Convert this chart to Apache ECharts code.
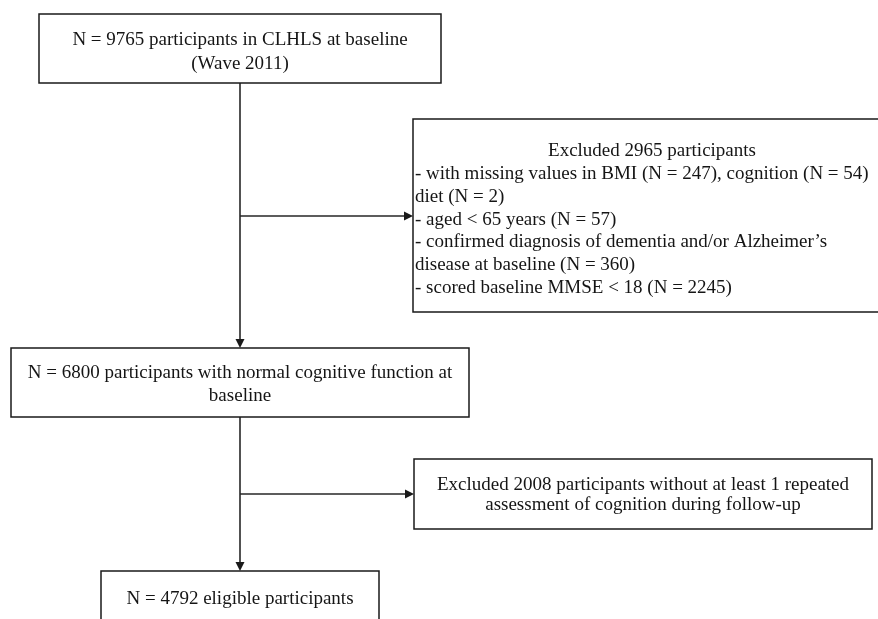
<!DOCTYPE html>
<html>
<head>
<meta charset="utf-8">
<script src="https://cdn.jsdelivr.net/npm/echarts@6/dist/echarts.min.js"></script>
<style>html,body{margin:0;padding:0;background:#fff}#c{width:878px;height:619px}</style>
</head>
<body>
<div id="c"></div>
<script>
// ---- content (text of each box) ----
const box1Lines = ["N = 9765 participants in CLHLS at baseline", "(Wave 2011)"];
const box2Title = ["Excluded 2965 participants"];
const box2Lines = [
  "- with missing values in BMI (N = 247), cognition (N = 54)",
  "diet (N = 2)",
  "- aged < 65 years (N = 57)",
  "- confirmed diagnosis of dementia and/or Alzheimer\u2019s",
  "disease at baseline (N = 360)",
  "- scored baseline MMSE < 18 (N = 2245)"
];
const box3Lines = ["N = 6800 participants with normal cognitive function at", "baseline"];
const box4Lines = ["Excluded 2008 participants without at least 1 repeated", "assessment of cognition during follow-up"];
const box5Lines = ["N = 4792 eligible participants"];

// ---- layout (diagram units = pixels of an 878x619 canvas) ----
const W = 878, H = 619;
const boxRects = [          // x0, y0, x1, y1
  [39, 14, 441, 83],
  [413, 119, 892, 312],
  [11, 348, 469, 417],
  [414, 459, 872, 529],
  [101, 571, 379, 660]
];
const boxFirstLineY = [40.5, 151.5, 373.5, 485, 599];
const boxLineHeight = [24, 22.7, 23, 20.5, 23];
const boxContent = [
  [{lines: box1Lines, align: 'center'}],
  [{lines: box2Title, align: 'center'}, {lines: box2Lines, align: 'left'}],
  [{lines: box3Lines, align: 'center'}],
  [{lines: box4Lines, align: 'center'}],
  [{lines: box5Lines, align: 'center'}]
];
const textLeftX = [null, 415, null, null, null];
const titleCenterX = [240, 652, 240, 643, 240];

// connectors: x0,y0,x1,y1 (arrow at end if flag 1)
const connectors = [
  [240, 83, 240, 348, 1],
  [240, 216, 413, 216, 1],
  [240, 417, 240, 571, 1],
  [240, 494, 414, 494, 1]
];

const FONT = "'Liberation Serif', 'Times New Roman', serif";
const FS = 19;

function renderBox(params, api) {
  const i = params.dataIndex;
  const p0 = api.coord([api.value(0), api.value(1)]);
  const p1 = api.coord([api.value(2), api.value(3)]);
  const children = [{
    type: 'rect',
    shape: {x: p0[0], y: p0[1], width: p1[0] - p0[0], height: p1[1] - p0[1]},
    style: {fill: '#fff', stroke: '#1a1a1a', lineWidth: 1.5}
  }];
  let k = 0;
  boxContent[i].forEach(block => {
    block.lines.forEach(line => {
      const yv = boxFirstLineY[i] + k * boxLineHeight[i];
      const xv = block.align === 'left' ? textLeftX[i] : titleCenterX[i];
      const pt = api.coord([xv, yv]);
      children.push({
        type: 'text',
        style: {
          x: pt[0], y: pt[1], text: line,
          fill: '#151515', font: FS + 'px ' + FONT,
          align: block.align, verticalAlign: 'middle'
        }
      });
      k++;
    });
  });
  return {type: 'group', children};
}

function renderConnector(params, api) {
  const a = api.coord([api.value(0), api.value(1)]);
  const b = api.coord([api.value(2), api.value(3)]);
  const dx = b[0] - a[0], dy = b[1] - a[1];
  const len = Math.sqrt(dx * dx + dy * dy);
  const ux = dx / len, uy = dy / len;
  const L = 9, hw = 4.5;
  const base = [b[0] - ux * L, b[1] - uy * L];
  const children = [{
    type: 'line',
    shape: {x1: a[0], y1: a[1], x2: base[0], y2: base[1]},
    style: {stroke: '#262626', lineWidth: 1.6}
  }];
  if (api.value(4)) {
    children.push({
      type: 'polygon',
      shape: {points: [[b[0], b[1]], [base[0] - uy * hw, base[1] + ux * hw], [base[0] + uy * hw, base[1] - ux * hw]]},
      style: {fill: '#1a1a1a'}
    });
  }
  return {type: 'group', children};
}

const chart = echarts.init(document.getElementById('c'), null, {renderer: 'canvas'});
chart.setOption({
  animation: false,
  backgroundColor: '#fff',
  grid: {left: 0, right: 0, top: 0, bottom: 0},
  xAxis: {type: 'value', min: 0, max: W, show: false},
  yAxis: {type: 'value', min: 0, max: H, inverse: true, show: false},
  series: [
    {type: 'custom', renderItem: renderConnector, data: connectors, clip: false, silent: true},
    {type: 'custom', renderItem: renderBox, data: boxRects, clip: false, silent: true}
  ]
});
</script>
</body>
</html>
